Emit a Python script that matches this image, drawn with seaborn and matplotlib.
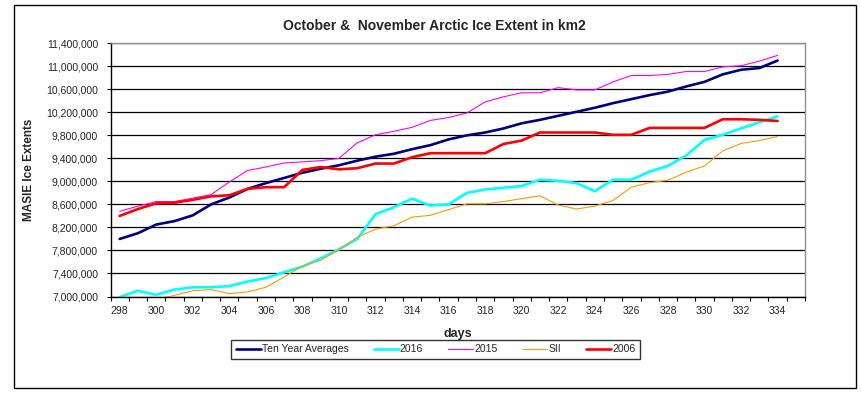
import numpy as np
import pandas as pd
import seaborn as sns
import matplotlib.pyplot as plt
from matplotlib.patches import Rectangle
from matplotlib.ticker import FuncFormatter

days = list(range(298, 335))

ten_year = [8.00, 8.10, 8.25, 8.31, 8.41, 8.60, 8.72, 8.87, 8.97, 9.06,
            9.15, 9.22, 9.28, 9.36, 9.43, 9.48, 9.56, 9.63, 9.73, 9.80,
            9.85, 9.92, 10.01, 10.07, 10.14, 10.21, 10.28, 10.36, 10.43, 10.50,
            10.56, 10.65, 10.73, 10.86, 10.94, 10.97, 11.10]
y2016 = [6.99, 7.10, 7.03, 7.12, 7.16, 7.16, 7.18, 7.26, 7.32, 7.42,
         7.52, 7.66, 7.82, 8.00, 8.43, 8.55, 8.70, 8.58, 8.60, 8.80,
         8.86, 8.89, 8.92, 9.03, 9.01, 8.97, 8.83, 9.03, 9.03, 9.17,
         9.27, 9.45, 9.72, 9.81, 9.92, 10.03, 10.13]
y2015 = [8.48, 8.57, 8.65, 8.65, 8.71, 8.77, 8.99, 9.19, 9.25, 9.32,
         9.34, 9.36, 9.40, 9.67, 9.81, 9.87, 9.94, 10.06, 10.11, 10.19,
         10.38, 10.47, 10.54, 10.54, 10.63, 10.59, 10.59, 10.73, 10.84, 10.84,
         10.86, 10.91, 10.91, 10.99, 11.01, 11.09, 11.19]
sii = [np.nan, np.nan, 6.95, 7.02, 7.10, 7.12, 7.05, 7.08, 7.16, 7.34,
       7.53, 7.63, 7.81, 8.03, 8.17, 8.23, 8.38, 8.41, 8.51, 8.61,
       8.61, 8.65, 8.70, 8.75, 8.59, 8.52, 8.57, 8.67, 8.90, 8.98,
       9.02, 9.16, 9.27, 9.53, 9.66, 9.71, 9.78]
y2006 = [8.40, 8.52, 8.62, 8.63, 8.68, 8.74, 8.76, 8.87, 8.90, 8.90,
         9.20, 9.25, 9.21, 9.23, 9.31, 9.31, 9.42, 9.49, 9.49, 9.49,
         9.49, 9.65, 9.71, 9.85, 9.85, 9.85, 9.85, 9.81, 9.81, 9.93,
         9.93, 9.93, 9.93, 10.08, 10.08, 10.07, 10.05]

names = ['Ten Year Averages', '2016', '2015', 'SII', '2006']
colors = ['#000080', '#00FFFF', '#FF00FF', '#FF9900', '#FF0000']
widths = [1.9, 1.9, 0.8, 0.8, 1.9]

sns.set_style('ticks')
plt.rcParams['font.family'] = ['Liberation Sans', 'DejaVu Sans']

fig = plt.figure(figsize=(8.61, 3.94), dpi=100)
ax = fig.add_axes([110.5 / 861, 1 - 296.5 / 394, 694.5 / 861, 253.2 / 394])

for name, vals, c, w in zip(names, [ten_year, y2016, y2015, sii, y2006], colors, widths):
    sns.lineplot(x=days, y=np.array(vals) * 1e6, color=c, lw=w, label=name, ax=ax)

ax.set_xlim(297.5, 335.5)
ax.set_ylim(7.0e6, 11.4e6)
ax.set_yticks(np.arange(7.0e6, 11.41e6, 4e5))
ax.yaxis.set_major_formatter(FuncFormatter(lambda v, p: f'{int(round(v)):,}'))
ax.set_xticks(range(298, 335, 2))
ax.set_xticks(np.arange(297.5, 336, 1), minor=True)
ax.tick_params(axis='x', which='major', length=0, pad=6.5, labelsize=7.5)
ax.tick_params(axis='x', which='minor', length=3, width=0.8, direction='out', color='black')
ax.tick_params(axis='y', length=3, width=0.8, direction='out', pad=6, labelsize=7.5, color='black')

ax.yaxis.grid(True, color='black', lw=0.9)
ax.xaxis.grid(False)
for s in ['left', 'bottom']:
    ax.spines[s].set_color('black')
    ax.spines[s].set_linewidth(1)
for s in ['top', 'right']:
    ax.spines[s].set_color('#909090')
    ax.spines[s].set_linewidth(1)

ax.set_xlabel('days', fontsize=9, fontweight='bold', labelpad=9)
ax.set_ylabel('MASIE Ice Extents', fontsize=8.5, fontweight='bold', labelpad=8)
fig.text(434 / 861, 1 - 26 / 394, 'October &  November Arctic Ice Extent in km2',
         ha='center', va='center', fontsize=10, fontweight='bold')

leg = ax.legend(loc='center', bbox_to_anchor=(435.5 / 861, 1 - 349.5 / 394),
                bbox_transform=fig.transFigure, ncol=5, fontsize=7.5, frameon=True,
                fancybox=False, handlelength=2.4, handletextpad=0.1, columnspacing=2.4,
                borderpad=0.45)
leg.get_frame().set_edgecolor('black')
leg.get_frame().set_linewidth(1)

fig.patches.append(Rectangle((14 / 861, 6 / 394), 842 / 861, 383 / 394, transform=fig.transFigure,
                             fill=False, edgecolor='black', lw=1))

fig.savefig('out.png', dpi=100)
